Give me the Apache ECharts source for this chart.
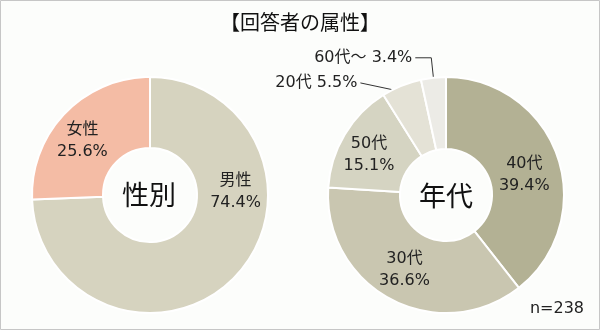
<!DOCTYPE html>
<html><head><meta charset="utf-8">
<script src="https://cdn.jsdelivr.net/npm/echarts@6/dist/echarts.min.js"></script>
<style>html,body{margin:0;padding:0;background:#fff}#c{width:600px;height:330px}</style>
</head><body><div id="c"></div>
<script>
const chartTitle = '【回答者の属性】';
const genderCenter = '性別';
const genderCats = ['男性', '女性'];
const genderVals = [74.4, 25.6];
const ageCenter = '年代';
const ageCats = ['40代', '30代', '50代', '20代', '60代～'];
const ageVals = [39.4, 36.6, 15.1, 5.5, 3.4];
const sampleN = 238;

const genderColors = ['#d6d3bf', '#f4bca5'];
const ageColors = ['#b3b194', '#c9c6b0', '#d5d4c2', '#e4e2d6', '#ecebe6'];
const FONT = "'DejaVu Sans','Noto Sans CJK JP',sans-serif";
const CJK = "'Noto Sans CJK JP',sans-serif";
const genderNudge = [[24, -62], [-6, 5]];
const ageNudge = [[-2, 8], [-2, 0], [-4, 3]];
const outsideSet = {
  3: {length: 3, length2: 40, inset: 7, straight: true},
  4: {length: 20, length2: 16, inset: 5, straight: false}
};

const chart = echarts.init(document.getElementById('c'), null, {renderer: 'canvas'});

const insideLabel = {
  show: true, position: 'inside', formatter: '{b}\n{c}%',
  color: '#222', fontSize: 16, fontFamily: FONT, lineHeight: 22
};

const genderData = genderCats.map((n, i) => ({name: n, value: genderVals[i], itemStyle: {color: genderColors[i]}}));
const ageData = ageCats.map((n, i) => {
  const d = {name: n, value: ageVals[i], itemStyle: {color: ageColors[i]}};
  const o = outsideSet[i];
  if (o) {
    d.label = {position: 'outside', formatter: '{b} {c}%', distanceToLabelLine: 3};
    d.labelLine = {show: true, length: o.length, length2: o.length2, lineStyle: {color: '#333', width: 1}};
  }
  return d;
});

chart.setOption({
  backgroundColor: '#fcfdfb',
  animation: false,
  graphic: [
    {type: 'rect', shape: {x: 0.5, y: 0.5, width: 599, height: 329}, style: {fill: 'none', stroke: '#c6c6c6', lineWidth: 1}, z: 100},
    {type: 'text', x: 300, y: 22, style: {text: chartTitle, font: '20px ' + CJK, fill: '#111', align: 'center', verticalAlign: 'middle'}},
    {type: 'text', x: 149, y: 195, style: {text: genderCenter, font: '27px ' + CJK, fill: '#111', align: 'center', verticalAlign: 'middle'}, z: 50},
    {type: 'text', x: 446, y: 196, style: {text: ageCenter, font: '27px ' + CJK, fill: '#111', align: 'center', verticalAlign: 'middle'}, z: 50},
    {type: 'text', x: 584, y: 309, style: {text: 'n=' + sampleN, font: '16px ' + FONT, fill: '#222', align: 'right', verticalAlign: 'middle'}}
  ],
  series: [
    {
      type: 'pie', center: [150, 195], radius: [47, 118], startAngle: 90, clockwise: true,
      avoidLabelOverlap: false, silent: true,
      itemStyle: {borderColor: '#fff', borderWidth: 2},
      label: insideLabel, labelLine: {show: false},
      labelLayout: function (p) { const d = genderNudge[p.dataIndex] || [0, 0]; return {dx: d[0], dy: d[1]}; },
      data: genderData
    },
    {
      type: 'pie', center: [446, 195], radius: [46, 118], startAngle: 90, clockwise: true,
      avoidLabelOverlap: false, silent: true,
      itemStyle: {borderColor: '#fff', borderWidth: 2},
      label: insideLabel, labelLine: {show: false},
      labelLayout: function (p) {
        const o = outsideSet[p.dataIndex];
        if (o && p.labelLinePoints && p.labelLinePoints.length >= 3) {
          const pts = p.labelLinePoints, p0 = pts[0], p1 = pts[1];
          const vx = p0[0] - p1[0], vy = p0[1] - p1[1];
          const L = Math.hypot(vx, vy) || 1;
          const s = [p0[0] + vx / L * o.inset, p0[1] + vy / L * o.inset];
          return {labelLinePoints: o.straight ? [s, pts[2]] : [s, pts[1], pts[2]]};
        }
        const d = ageNudge[p.dataIndex] || [0, 0];
        return {dx: d[0], dy: d[1]};
      },
      data: ageData
    }
  ]
});
</script>
</body></html>
